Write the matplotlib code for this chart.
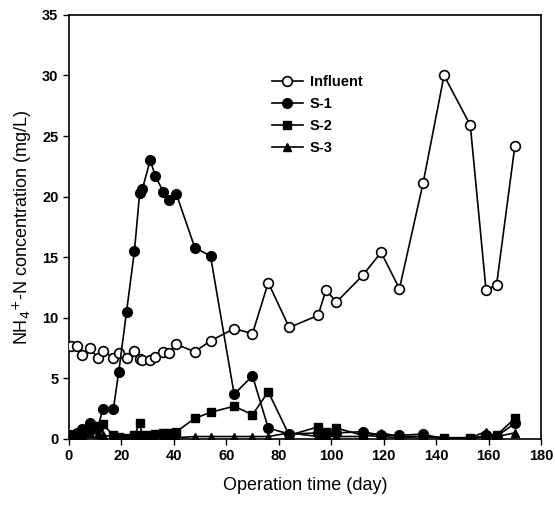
import matplotlib
matplotlib.use("Agg")
import matplotlib.pyplot as plt

plt.rcParams['font.family'] = ['Liberation Sans', 'DejaVu Sans']

days = [1, 3, 5, 8, 11, 13, 17, 19, 22, 25, 27, 28, 31, 33, 36, 38, 41, 48, 54, 63,
        70, 76, 84, 95, 98, 102, 112, 119, 126, 135, 143, 153, 159, 163, 170]
influent = [7.7, 7.7, 6.9, 7.5, 6.7, 7.3, 6.7, 7.1, 6.7, 7.3, 6.6, 6.5, 6.5, 6.8, 7.2,
            7.1, 7.8, 7.2, 8.1, 9.1, 8.7, 12.9, 9.2, 10.2, 12.3, 11.3, 13.5, 15.4, 12.4,
            21.1, 30.0, 25.9, 12.3, 12.7, 24.2]
s1 = [0.3, 0.5, 0.8, 1.3, 0.9, 2.5, 2.5, 5.5, 10.5, 15.5, 20.3, 20.6, 23.0, 21.7, 20.4,
      19.7, 20.2, 15.8, 15.1, 3.7, 5.2, 0.9, 0.4, 0.5, 0.4, 0.5, 0.6, 0.3, 0.3, 0.4,
      0.0, 0.0, 0.3, 0.2, 1.3]
s2 = [0.2, 0.4, 0.6, 0.9, 1.1, 1.2, 0.3, 0.2, 0.1, 0.3, 1.3, 0.3, 0.3, 0.4, 0.5,
      0.5, 0.6, 1.7, 2.2, 2.7, 2.0, 3.9, 0.3, 1.0, 0.6, 0.9, 0.3, 0.2, 0.1, 0.2,
      0.1, 0.1, 0.2, 0.3, 1.7]
s3 = [0.1, 0.2, 0.3, 0.5, 0.4, 0.3, 0.2, 0.1, 0.1, 0.1, 0.1, 0.1, 0.1, 0.1, 0.1,
      0.1, 0.1, 0.2, 0.2, 0.2, 0.2, 0.2, 0.5, 0.2, 0.3, 0.2, 0.2, 0.5, 0.2, 0.2,
      0.1, 0.1, 0.6, 0.2, 0.5]

fig = plt.figure(figsize=(5.55, 5.14), dpi=100)
ax = fig.add_axes([0.124, 0.146, 0.851, 0.825])

lw = 1.2
ax.plot(days, influent, '-o', color='black', mfc='white', mec='black', ms=7, lw=lw, mew=1.2, label='Influent', zorder=3)
ax.plot(days, s1, '-o', color='black', ms=7, lw=lw, label='S-1', zorder=4)
ax.plot(days, s2, '-s', color='black', ms=6, lw=lw, label='S-2', zorder=5)
ax.plot(days, s3, '-^', color='black', ms=6, lw=lw, label='S-3', zorder=6)

ax.set_xlim(0, 180)
ax.set_ylim(0, 35)
ax.set_xticks(range(0, 181, 20))
ax.set_yticks(range(0, 36, 5))
ax.tick_params(direction='out', length=4, width=1, labelsize=10.5)
for lab in ax.get_xticklabels() + ax.get_yticklabels():
    lab.set_fontweight('bold')
for s in ax.spines.values():
    s.set_linewidth(1.2)

ax.set_xlabel('Operation time (day)', fontsize=13, labelpad=10)
ax.set_ylabel(r'NH$_4$$^{+}$-N concentration (mg/L)', fontsize=13, labelpad=6)

ax.legend(loc='upper left', bbox_to_anchor=(0.415, 0.875), frameon=False,
          prop={'size': 10.5, 'weight': 'bold'}, handlelength=2.1,
          handletextpad=0.5, labelspacing=0.55, borderpad=0)

fig.savefig('out.png', dpi=100)
